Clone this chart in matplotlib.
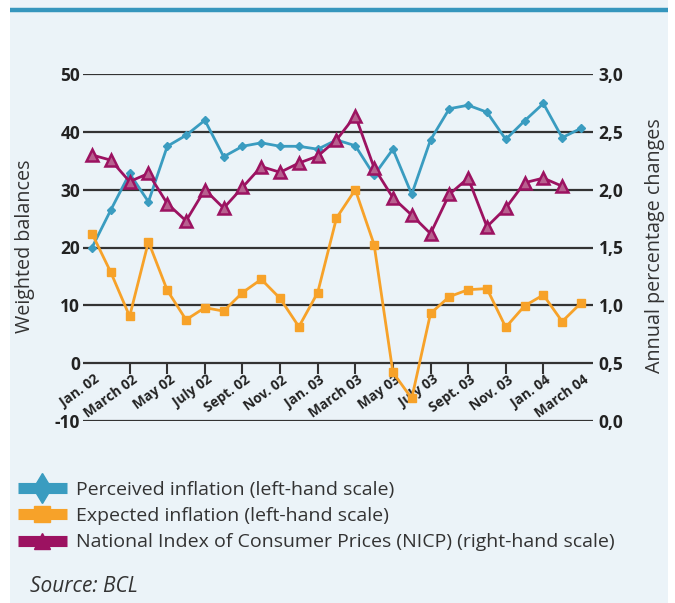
import matplotlib
matplotlib.use("Agg")
import matplotlib.pyplot as plt
from matplotlib.lines import Line2D
from matplotlib.patches import Rectangle
import matplotlib.transforms as mtransforms

plt.rcParams['font.family'] = ['Open Sans', 'DejaVu Sans']
plt.rcParams['axes.unicode_minus'] = False

months = ["Jan. 02", "Feb. 02", "March 02", "April 02", "May 02", "June 02", "July 02",
          "Aug. 02", "Sept. 02", "Oct. 02", "Nov. 02", "Dec. 02", "Jan. 03", "Feb. 03",
          "March 03", "April 03", "May 03", "June 03", "July 03", "Aug. 03", "Sept. 03",
          "Oct. 03", "Nov. 03", "Dec. 03", "Jan. 04", "Feb. 04", "March 04"]
perceived = [20.0, 26.5, 32.8, 27.9, 37.5, 39.4, 42.0, 35.7, 37.5, 38.1, 37.5, 37.5, 37.0,
             38.6, 37.6, 32.5, 37.0, 29.2, 38.6, 44.0, 44.6, 43.4, 38.7, 41.9, 44.9, 39.0, 40.6]
expected = [22.4, 15.7, 8.1, 21.0, 12.6, 7.5, 9.6, 9.0, 12.2, 14.5, 11.2, 6.3, 12.2,
            25.1, 30.0, 20.5, -1.6, -6.1, 8.6, 11.5, 12.7, 12.9, 6.2, 9.9, 11.8, 7.2, 10.4]
nicp = [2.30, 2.255, 2.07, 2.14, 1.88, 1.73, 2.00, 1.84, 2.02, 2.20, 2.15, 2.23, 2.29,
        2.43, 2.64, 2.19, 1.93, 1.78, 1.62, 1.96, 2.10, 1.68, 1.84, 2.06, 2.10, 2.03]
left_ticks = [-10, 0, 10, 20, 30, 40, 50]
right_ticks = [0.0, 0.5, 1.0, 1.5, 2.0, 2.5, 3.0]
right_labels = ["0,0", "0,5", "1,0", "1,5", "2,0", "2,5", "3,0"]
legend_labels = ["Perceived inflation (left-hand scale)",
                 "Expected inflation (left-hand scale)",
                 "National Index of Consumer Prices (NICP) (right-hand scale)"]

BLUE = '#3A9CC0'
ORANGE = '#F7A229'
MAGENTA = '#9C1261'
BG = '#EBF3F8'
TXT = '#222222'

W, H = 675, 603
fig = plt.figure(figsize=(W / 100, H / 100), dpi=100, facecolor='white')
fig.patches.append(Rectangle((10 / W, 0), 658 / W, 1, transform=fig.transFigure,
                             facecolor=BG, edgecolor='none', zorder=-10))
fig.lines.append(Line2D([10 / W, 668 / W], [1 - 10 / H, 1 - 10 / H], transform=fig.transFigure,
                        color='#3596BD', lw=3.2, solid_capstyle='butt'))

ax = fig.add_axes([83 / W, 1 - 421 / H, 510 / W, 347 / H])
ax.set_facecolor('none')
x = list(range(len(months)))
ax.set_xlim(-0.48, 26.64)
ax.set_ylim(-10, 50)
for s in ax.spines.values():
    s.set_visible(False)
ax.spines['bottom'].set_position(('data', 0))
ax.set_yticks(left_ticks)
ax.set_yticklabels([str(t) for t in left_ticks])
ax.tick_params(axis='y', length=0, pad=2, labelsize=12.5, labelcolor=TXT)
for lab in ax.get_yticklabels():
    lab.set_fontweight('bold')
ax.yaxis.grid(True, color='#333333', lw=1.6)
ax.set_axisbelow(True)

# x ticks: labels every 2 months (major, no mark), marks from March 02 to Jan 04 (minor)
ax.xaxis.remove_overlapping_locs = False
ax.set_xticks(x[::2])
ax.set_xticklabels(months[::2], rotation=36, ha='right', va='top',
                   fontsize=9.8, fontweight='bold', color=TXT)
ax.set_xticks(x[2:25:2], minor=True)
ax.tick_params(axis='x', which='major', length=0, pad=7)
ax.tick_params(axis='x', which='minor', length=8, width=1.5, color='#333333', direction='out')
offset = mtransforms.ScaledTranslation(10 / 100, 0, fig.dpi_scale_trans)
for lab in ax.get_xticklabels():
    lab.set_transform(lab.get_transform() + offset)

ax.plot(x, perceived, color=BLUE, lw=2.0, marker='D', ms=4, mfc=BLUE, mec=BLUE, zorder=3)
ax.plot(x, expected, color=ORANGE, lw=2.0, marker='s', ms=6, mfc=ORANGE, mec=ORANGE, zorder=3)

ax2 = ax.twinx()
ax2.set_ylim(0, 3.0)
for s in ax2.spines.values():
    s.set_visible(False)
ax2.set_yticks(right_ticks)
ax2.set_yticklabels(right_labels)
ax2.tick_params(axis='y', length=0, pad=4, labelsize=12.5, labelcolor=TXT)
for lab in ax2.get_yticklabels():
    lab.set_fontweight('bold')
ax2.plot(x[:len(nicp)], nicp, color=MAGENTA, lw=2.0, marker='^', ms=8, mfc='#B8608F',
         mec=MAGENTA, mew=1.8, zorder=4)

fig.text(25 / W, 1 - 246 / H, "Weighted balances", rotation=90, ha='center', va='center',
         fontsize=14.2, color='#333333')
fig.text(655 / W, 1 - 246 / H, "Annual percentage changes", rotation=90, ha='center',
         va='center', fontsize=14.2, color='#333333')

handles = [
    Line2D([], [], color=BLUE, lw=8, marker='d', ms=15, mfc=BLUE, mec=BLUE, solid_capstyle='butt'),
    Line2D([], [], color=ORANGE, lw=8, marker='s', ms=11.5, mfc=ORANGE, mec=ORANGE,
           solid_capstyle='butt'),
    Line2D([], [], color=MAGENTA, lw=8, marker='^', ms=12, mfc=MAGENTA, mec=MAGENTA,
           solid_capstyle='butt'),
]
fig.legend(handles, legend_labels, loc='upper left', bbox_to_anchor=(18 / W, 1 - 481 / H),
           frameon=False, fontsize=14, handlelength=2.5, handletextpad=0.5,
           labelspacing=0.42, borderaxespad=0, borderpad=0, labelcolor='#333333')

fig.text(30 / W, 1 - 587 / H, "Source: BCL", ha='left', va='center', fontsize=15,
         style='italic', color='#333333')

fig.savefig('out.png', dpi=100, facecolor='white')
